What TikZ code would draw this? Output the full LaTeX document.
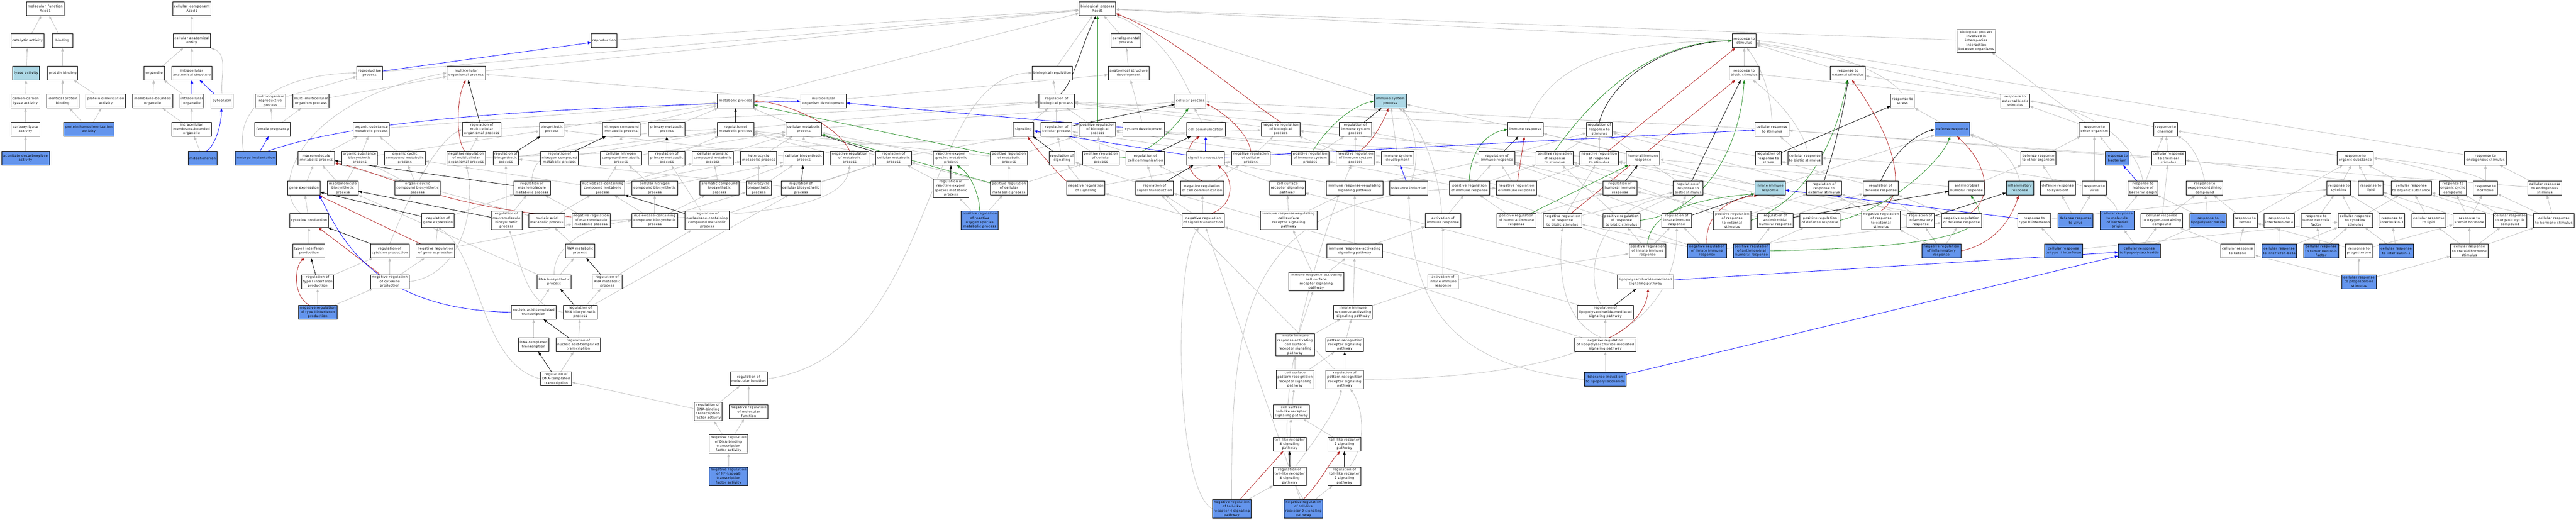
\documentclass[tikz,border=0pt]{standalone}
\usepackage{fontspec}
\usetikzlibrary{arrows.meta}
\newfontfamily\gofont{DejaVu Sans}[LetterSpace=8]
\definecolor{lblue}{HTML}{ADD8E6}
\definecolor{cblue}{HTML}{6495ED}
\definecolor{egrey}{HTML}{C0C0C0}
\definecolor{fired}{HTML}{B22222}
\definecolor{fgreen}{HTML}{228B22}
\pgfdeclarelayer{bg}
\pgfsetlayers{bg,main}
\tikzset{
  gn/.style={draw=black, line width=0.35pt, fill=white, inner sep=0pt, minimum height=0.415cm, align=center, font={\gofont\fontsize{2.7pt}{3.65pt}\selectfont}},
  lb/.style={fill=lblue}, db/.style={fill=cblue},
  tf/.style={minimum height=0.553cm}, tv/.style={minimum height=0.672cm},
  arr/.style={-{Triangle[length=0.1cm,width=0.075cm]}},
  eg/.style={arr, draw=egrey, line width=0.35pt},
  ek/.style={arr, draw=black, line width=0.35pt},
  eb/.style={arr, draw=blue, line width=0.35pt},
  ebt/.style={arr, draw=blue, line width=0.7pt},
  ep/.style={arr, draw=fgreen, line width=0.35pt},
  en/.style={arr, draw=fired, line width=0.35pt}
}
\newcommand{\gonode}[6][]{\node[gn,minimum width={#5*0.01cm},#1] (#2) at (#3,#4) {#6};}
\begin{document}
\begin{tikzpicture}[x=0.01cm,y=-0.00988cm]
\useasboundingbox (0,0) rectangle (7680,1568);
% ---------- molecular function
\gonode{mf}{135}{26}{113}{molecular\_function\\Acod1}
\gonode{cat}{82}{123}{99}{catalytic activity}
\gonode{bind}{186}{123}{62}{binding}
\gonode[lb]{lyase}{78}{220}{80}{lyase activity}
\gonode{pbind}{187}{220}{89}{protein binding}
\gonode{cclyase}{76}{305}{85}{carbon-carbon\\lyase activity}
\gonode{idpb}{187}{305}{96}{identical protein\\binding}
\gonode{pdim}{315}{305}{119}{protein dimerization\\activity}
\gonode{carbox}{76}{390}{85}{carboxy-lyase\\activity}
\gonode[db]{phomo}{265}{390}{150}{protein homodimerization\\activity}
\gonode[db]{acod}{76}{477}{143}{aconitate decarboxylase\\activity}
% ---------- cellular component
\gonode{cc}{572}{26}{115}{cellular\_component\\Acod1}
\gonode{cae}{572}{123}{112}{cellular anatomical\\entity}
\gonode{org}{460}{220}{62}{organelle}
\gonode{ias}{572}{220}{121}{intracellular\\anatomical structure}
\gonode{mbo}{455}{305}{120}{membrane-bounded\\organelle}
\gonode{io}{572}{305}{71}{intracellular\\organelle}
\gonode{cyto}{662}{305}{65}{cytoplasm}
\gonode{imbo}{571}{390}{118}{intracellular\\membrane-bounded\\organelle}
\gonode[db]{mito}{604}{477}{86}{mitochondrion}
% ---------- biological process
\gonode{reprop}{1102}{220}{76}{reproductive\\process}
\gonode{morp}{806}{305}{91}{multi-organism\\reproductive\\process}
\gonode{mmop}{927}{305}{108}{multi-multicellular\\organism process}
\gonode{fpreg}{813}{390}{106}{female pregnancy}
\gonode[db]{embimp}{763}{477}{123}{embryo implantation}
\gonode{osmp}{1107}{390}{108}{organic substance\\metabolic process}
\gonode{mmp}{943}{477}{108}{macromolecule\\metabolic process}
\gonode{osbp}{1072}{477}{106}{organic substance\\biosynthetic\\process}
\gonode{occmp}{1207}{477}{122}{organic cyclic\\compound metabolic\\process}
\gonode{gexp}{906}{568}{97}{gene expression}
\gonode{mbp}{1022}{568}{92}{macromolecule\\biosynthetic\\process}
\gonode{occbp}{1245}{568}{136}{organic cyclic\\compound biosynthetic\\process}
\gonode{cytprod}{921}{665}{115}{cytokine production}
\gonode{t1ifn}{921}{757}{95}{type I interferon\\production}
\gonode{rt1ifn}{947}{850}{95}{regulation of\\type I interferon\\production}
\gonode{rcytprod}{1162}{757}{115}{regulation of\\cytokine production}
\gonode{nrcytprod}{1162}{850}{115}{negative regulation\\of cytokine\\production}
\gonode[db]{nrt1ifn}{947}{942}{115}{negative regulation\\of type I interferon\\production}
\gonode{rgexp}{1306}{665}{97}{regulation of\\gene expression}
\gonode{nrgexp}{1298}{757}{115}{negative regulation\\of gene expression}
\gonode{repro}{1801}{123}{76}{reproduction}
\gonode{mop}{1390}{220}{115}{multicellular\\organismal process}
\gonode{rmop}{1436}{390}{115}{regulation of\\multicellular\\organismal process}
\gonode{nrmop}{1390}{477}{115}{negative regulation\\of multicellular\\organismal process}
\gonode{biosyn}{1645}{390}{73}{biosynthetic\\process}
\gonode{ncmp}{1852}{390}{113}{nitrogen compound\\metabolic process}
\gonode{rbiosyn}{1508}{477}{76}{regulation of\\biosynthetic\\process}
\gonode{rncmp}{1668}{477}{113}{regulation of\\nitrogen compound\\metabolic process}
\gonode{cncmp}{1851}{477}{123}{cellular nitrogen\\compound metabolic\\process}
\gonode{rmmp}{1586}{568}{109}{regulation of\\macromolecule\\metabolic process}
\gonode{nccmp}{1797}{568}{131}{nucleobase-containing\\compound metabolic\\process}
\gonode{cncbp}{1952}{568}{137}{cellular nitrogen\\compound biosynthetic\\process}
\gonode[tf]{rmbp}{1510}{665}{92}{regulation of\\macromolecule\\biosynthetic\\process}
\gonode{namp}{1630}{665}{108}{nucleic acid\\metabolic process}
\gonode{nrmmp}{1762}{665}{114}{negative regulation\\of macromolecule\\metabolic process}
\gonode{nccbp}{1952}{665}{137}{nucleobase-containing\\compound biosynthetic\\process}
\gonode{rnamp}{1729}{757}{88}{RNA metabolic\\process}
\gonode{rnabp}{1652}{850}{101}{RNA biosynthetic\\process}
\gonode{rrnamp}{1810}{850}{88}{regulation of\\RNA metabolic\\process}
\gonode{natt}{1591}{942}{134}{nucleic acid-templated\\transcription}
\gonode{rrnabp}{1730}{942}{102}{regulation of\\RNA biosynthetic\\process}
\gonode{dtt}{1591}{1040}{91}{DNA-templated\\transcription}
\gonode{rnatt}{1724}{1040}{133}{regulation of\\nucleic acid-templated\\transcription}
\gonode{rdtt}{1658}{1143}{92}{regulation of\\DNA-templated\\transcription}
\gonode{metp}{2193}{305}{109}{metabolic process}
\gonode{mod}{2455}{305}{136}{multicellular\\organism development}
\gonode{pmp}{1988}{390}{109}{primary metabolic\\process}
\gonode{rmetp}{2193}{390}{109}{regulation of\\metabolic process}
\gonode{cmp}{2396}{390}{106}{cellular metabolic\\process}
\gonode{rpmp}{1988}{477}{109}{regulation of\\primary metabolic\\process}
\gonode{cacmp}{2125}{477}{122}{cellular aromatic\\compound metabolic\\process}
\gonode{hmp}{2262}{477}{107}{heterocycle\\metabolic process}
\gonode{cbp}{2396}{477}{119}{cellular biosynthetic\\process}
\gonode{nrmetp}{2533}{477}{115}{negative regulation\\of metabolic\\process}
\gonode{acbp}{2145}{568}{117}{aromatic compound\\biosynthetic\\process}
\gonode{hbp}{2262}{568}{75}{heterocycle\\biosynthetic\\process}
\gonode{rcbp}{2388}{568}{119}{regulation of\\cellular biosynthetic\\process}
\gonode[tf]{rnccmp}{2108}{665}{131}{regulation of\\nucleobase-containing\\compound metabolic\\process}
\gonode{rmf}{2232}{1143}{111}{regulation of\\molecular function}
\gonode[tf]{rdbtf}{2111}{1242}{84}{regulation of\\DNA-binding\\transcription\\factor activity}
\gonode{nrmf}{2232}{1242}{115}{negative regulation\\of molecular\\function}
\gonode[tf]{nrdbtf}{2172}{1340}{115}{negative regulation\\of DNA-binding\\transcription\\factor activity}
\gonode[tf,db]{nrnfkb}{2172}{1437}{115}{negative regulation\\of NF-kappaB\\transcription\\factor activity}
\gonode{breg}{3137}{220}{120}{biological regulation}
\gonode{rbp}{3150}{305}{106}{regulation of\\biological process}
\gonode{sig}{3051}{390}{62}{signaling}
\gonode{rcp}{3150}{390}{92}{regulation of\\cellular process}
\gonode{rcmp}{2664}{477}{106}{regulation of\\cellular metabolic\\process}
\gonode{rosmp}{2835}{477}{106}{reactive oxygen\\species metabolic\\process}
\gonode{prmetp}{3008}{477}{110}{positive regulation\\of metabolic\\process}
\gonode{rsig}{3166}{477}{77}{regulation of\\signaling}
\gonode[tf]{rrosmp}{2835}{568}{106}{regulation of\\reactive oxygen\\species metabolic\\process}
\gonode{prcmp}{3008}{568}{110}{positive regulation\\of cellular\\metabolic process}
\gonode{nrsig}{3237}{568}{115}{negative regulation\\of signaling}
\gonode[tf,db]{prrosmp}{2921}{665}{111}{positive regulation\\of reactive\\oxygen species\\metabolic process}
\gonode{bp}{3272}{26}{109}{biological\_process\\Acod1}
\gonode{devp}{3357}{123}{90}{developmental\\process}
\gonode{asd}{3365}{220}{122}{anatomical structure\\development}
\gonode{cellp}{3549}{305}{92}{cellular process}
\gonode{prbp}{3272}{390}{109}{positive regulation\\of biological\\process}
\gonode{sysdev}{3410}{390}{124}{system development}
\gonode{ccomm}{3595}{390}{115}{cell communication}
\gonode{nrbp}{3818}{390}{115}{negative regulation\\of biological\\process}
\gonode{prcp}{3282}{477}{110}{positive regulation\\of cellular\\process}
\gonode{rccomm}{3415}{477}{115}{regulation of\\cell communication}
\gonode{st}{3594}{477}{112}{signal transduction}
\gonode{nrcp}{3729}{477}{115}{negative regulation\\of cellular\\process}
\gonode{rst}{3442}{568}{112}{regulation of\\signal transduction}
\gonode{nrccomm}{3584}{568}{129}{negative regulation\\of cell communication}
\gonode{csrsp}{3838}{568}{106}{cell surface\\receptor signaling\\pathway}
\gonode{nrst}{3587}{665}{127}{negative regulation\\of signal transduction}
\gonode[tf]{irrcsrsp}{3842}{665}{168}{immune response-regulating\\cell surface\\receptor signaling\\pathway}
\gonode[tf,db]{nrtlr4}{3672}{1535}{115}{negative regulation\\of toll-like\\receptor 4 signaling\\pathway}
\gonode[lb]{isp}{4145}{305}{97}{immune system\\process}
\gonode{risp}{4041}{390}{96}{regulation of\\immune system\\process}
\gonode{prisp}{3906}{477}{111}{positive regulation\\of immune system\\process}
\gonode{nrisp}{4041}{477}{114}{negative regulation\\of immune system\\process}
\gonode{isd}{4167}{477}{96}{immune system\\development}
\gonode{rir}{4463}{477}{107}{regulation of\\immune response}
\gonode{irrsp}{4039}{568}{168}{immune response-regulating\\signaling pathway}
\gonode{tolind}{4200}{568}{113}{tolerance induction}
\gonode{prir}{4381}{568}{120}{positive regulation\\of immune response}
\gonode{nrir}{4521}{568}{121}{negative regulation\\of immune response}
\gonode{air}{4302}{665}{106}{activation of\\immune response}
\gonode{prhir}{4521}{665}{117}{positive regulation\\of humoral immune\\response}
\gonode{irasp}{4039}{757}{166}{immune response-activating\\signaling pathway}
\gonode[tf]{iracsrsp}{3924}{850}{165}{immune response-activating\\cell surface\\receptor signaling\\pathway}
\gonode{aiir}{4302}{850}{91}{activation of\\innate immune\\response}
\gonode{iiras}{4034}{942}{115}{innate immune\\response-activating\\signaling pathway}
\gonode[tv]{iiracs}{3861}{1040}{116}{innate immune\\response activating\\cell surface\\receptor signaling\\pathway}
\gonode{prrsp}{4009}{1040}{112}{pattern recognition\\receptor signaling\\pathway}
\gonode[tf]{csprr}{3861}{1145}{113}{cell surface\\pattern recognition\\receptor signaling\\pathway}
\gonode[tf]{rprrsp}{4009}{1145}{112}{regulation of\\pattern recognition\\receptor signaling\\pathway}
\gonode{cstlr}{3850}{1242}{107}{cell surface\\toll-like receptor\\signaling pathway}
\gonode{tlr4}{3845}{1340}{98}{toll-like receptor\\4 signaling\\pathway}
\gonode{tlr2}{4008}{1340}{99}{toll-like receptor\\2 signaling\\pathway}
\gonode[tf]{rtlr4}{3845}{1437}{98}{regulation of\\toll-like receptor\\4 signaling\\pathway}
\gonode[tf]{rtlr2}{4008}{1437}{99}{regulation of\\toll-like receptor\\2 signaling\\pathway}
\gonode[tf,db]{nrtlr2}{3886}{1535}{115}{negative regulation\\of toll-like\\receptor 2 signaling\\pathway}
\gonode{ir}{4548}{390}{106}{immune response}
\gonode{rrs}{4768}{390}{77}{regulation of\\response to\\stimulus}
\gonode{prrs}{4635}{477}{111}{positive regulation\\of response\\to stimulus}
\gonode{nrrs}{4768}{477}{115}{negative regulation\\of response\\to stimulus}
\gonode{hir}{4898}{477}{101}{humoral immune\\response}
\gonode{rhir}{4830}{568}{101}{regulation of\\humoral immune\\response}
\gonode{rrbio}{5033}{568}{89}{regulation of\\response to\\biotic stimulus}
\gonode{nrrbio}{4658}{665}{115}{negative regulation\\of response\\to biotic stimulus}
\gonode{prrbio}{4834}{665}{110}{positive regulation\\of response\\to biotic stimulus}
\gonode{riir}{4999}{665}{90}{regulation of\\innate immune\\response}
\gonode{priir}{4912}{757}{110}{positive regulation\\of innate immune\\response}
\gonode[db]{nriir}{5089}{757}{116}{negative regulation\\of innate immune\\response}
\gonode{lpssp}{4906}{850}{168}{lipopolysaccharide-mediated\\signaling pathway}
\gonode{rlpssp}{4786}{942}{168}{regulation of\\lipopolysaccharide-mediated\\signaling pathway}
\gonode{nrlpssp}{4786}{1040}{182}{negative regulation\\of lipopolysaccharide-mediated\\signaling pathway}
\gonode[db]{tollps}{4786}{1145}{125}{tolerance induction\\to lipopolysaccharide}
\gonode{rstim}{5200}{123}{72}{response to\\stimulus}
\gonode{rbio}{5200}{220}{88}{response to\\biotic stimulus}
\gonode{rext}{5509}{220}{104}{response to\\external stimulus}
\gonode{rstress}{5672}{305}{71}{response to\\stress}
\gonode{crs}{5283}{390}{101}{cellular response\\to stimulus}
\gonode{rrstress}{5272}{477}{77}{regulation of\\response to\\stress}
\gonode{crbio}{5381}{477}{102}{cellular response\\to biotic stimulus}
\gonode[lb]{iir}{5277}{568}{91}{innate immune\\response}
\gonode{rrext}{5438}{568}{103}{regulation of\\response to\\external stimulus}
\gonode{rdefr}{5607}{568}{104}{regulation of\\defense response}
\gonode[tf]{prrext}{5164}{665}{112}{positive regulation\\of response\\to external\\stimulus}
\gonode{ramhr}{5293}{665}{106}{regulation of\\antimicrobial\\humoral response}
\gonode{prdefr}{5426}{665}{120}{positive regulation\\of defense response}
\gonode[tf]{nrrext}{5608}{665}{115}{negative regulation\\of response\\to external\\stimulus}
\gonode{rinflr}{5726}{665}{81}{regulation of\\inflammatory\\response}
\gonode[db]{pramhr}{5222}{757}{110}{positive regulation\\of antimicrobial\\humoral response}
\gonode[db]{nrinflr}{5788}{757}{116}{negative regulation\\of inflammatory\\response}
\gonode[tv]{bpint}{5892}{123}{116}{biological process\\involved in\\interspecies\\interaction\\between organisms}
\gonode{rextbio}{6008}{305}{86}{response to\\external biotic\\stimulus}
\gonode[db]{defr}{5820}{390}{105}{defense response}
\gonode{rother}{6244}{390}{90}{response to\\other organism}
\gonode{drother}{6077}{477}{105}{defense response\\to other organism}
\gonode[db]{rbact}{6312}{477}{71}{response to\\bacterium}
\gonode{amhr}{5863}{568}{106}{antimicrobial\\humoral response}
\gonode[lb]{inflr}{6022}{568}{81}{inflammatory\\response}
\gonode{drsym}{6135}{568}{104}{defense response\\to symbiont}
\gonode{rvirus}{6244}{568}{72}{response to\\virus}
\gonode{rmbo}{6389}{568}{90}{response to\\molecule of\\bacterial origin}
\gonode{nrdefr}{5848}{665}{119}{negative regulation\\of defense response}
\gonode{rt2ifn}{6065}{665}{99}{response to\\type II interferon}
\gonode[db]{drvirus}{6188}{665}{104}{defense response\\to virus}
\gonode[tf,db]{crmbo}{6312}{665}{102}{cellular response\\to molecule\\of bacterial\\origin}
\gonode{croxy}{6445}{665}{125}{cellular response\\to oxygen-containing\\compound}
\gonode[db]{crt2ifn}{6152}{757}{113}{cellular response\\to type II interferon}
\gonode[db]{crlps}{6378}{757}{125}{cellular response\\to lipopolysaccharide}
\gonode{rchem}{6456}{390}{71}{response to\\chemical}
\gonode{crchem}{6465}{477}{101}{cellular response\\to chemical\\stimulus}
\gonode{roxy}{6573}{568}{109}{response to\\oxygen-containing\\compound}
\gonode[db]{rlps}{6583}{665}{110}{response to\\lipopolysaccharide}
\gonode{rketone}{6694}{665}{71}{response to\\ketone}
\gonode{rifnb}{6795}{665}{90}{response to\\interferon-beta}
\gonode{rtnf}{6905}{665}{88}{response to\\tumor necrosis\\factor}
\gonode{crketone}{6671}{757}{102}{cellular response\\to ketone}
\gonode[db]{crifnb}{6795}{757}{104}{cellular response\\to interferon-beta}
\gonode[db]{crtnf}{6920}{757}{104}{cellular response\\to tumor necrosis\\factor}
\gonode{rorg}{7022}{477}{107}{response to\\organic substance}
\gonode{rcyto}{6973}{568}{71}{response to\\cytokine}
\gonode{rlipid}{7068}{568}{73}{response to\\lipid}
\gonode{crcyto}{7022}{665}{103}{cellular response\\to cytokine\\stimulus}
\gonode{rprog}{7033}{757}{80}{response to\\progesterone}
\gonode[db]{crprog}{7033}{850}{103}{cellular response\\to progesterone\\stimulus}
\gonode{rendo}{7410}{477}{125}{response to\\endogenous stimulus}
\gonode{crorg}{7189}{568}{121}{cellular response\\to organic substance}
\gonode{rocc}{7313}{568}{81}{response to\\organic cyclic\\compound}
\gonode{rhorm}{7410}{568}{72}{response to\\hormone}
\gonode{crendo}{7587}{568}{101}{cellular response\\to endogenous\\stimulus}
\gonode{ril1}{7131}{665}{77}{response to\\interleukin-1}
\gonode{crlipid}{7241}{665}{101}{cellular response\\to lipid}
\gonode{rsteroid}{7362}{665}{97}{response to\\steroid hormone}
\gonode{crocc}{7483}{665}{101}{cellular response\\to organic cyclic\\compound}
\gonode{crhorm}{7614}{665}{122}{cellular response\\to hormone stimulus}
\gonode[db]{cril1}{7144}{757}{102}{cellular response\\to interleukin-1}
\gonode{crsteroid}{7362}{757}{112}{cellular response\\to steroid hormone\\stimulus}

\begin{pgfonlayer}{bg}
% grey is_a edges
\foreach \a/\b in {cat/mf, bind/mf, lyase/cat, pbind/bind, cclyase/lyase, idpb/pbind, pdim/pbind, carbox/cclyase, phomo/idpb, phomo/pdim, acod/carbox,
 cae/cc, org/cae, ias/cae, mbo/org, io/org, imbo/mbo, imbo/io, mito/imbo,
 reprop/bp, repro/bp, mop/bp, devp/bp, breg/bp, metp/bp, isp/bp, rstim/bp, bpint/bp,
 morp/reprop, mmop/mop, fpreg/morp, fpreg/mmop, mod/mop, mod/asd, asd/devp, sysdev/asd,
 osmp/metp, mmp/osmp, osbp/osmp, osbp/biosyn, occmp/osmp, gexp/mmp, mbp/mmp, mbp/osbp, occbp/occmp, occbp/osbp, biosyn/metp, ncmp/metp, pmp/metp, cmp/metp, cmp/cellp, cncmp/ncmp, cncmp/cmp, nccmp/cncmp, nccmp/occmp, nccmp/cacmp, nccmp/hmp, cncbp/cncmp, cncbp/cbp, nccbp/cncbp, nccbp/nccmp, nccbp/acbp, nccbp/hbp, cacmp/cmp, hmp/cmp, cbp/cmp, cbp/biosyn, acbp/cacmp, acbp/cbp, hbp/hmp, hbp/cbp, namp/nccmp, namp/mmp, rnamp/namp, rnabp/rnamp, rnabp/mbp, natt/rnabp, dtt/natt, rosmp/cmp,
 rmop/rbp, nrmop/rmop, nrmop/nrbp, rbiosyn/rmetp, rncmp/rmetp, rmbp/rmmp, rmbp/rbiosyn, nrmmp/rmmp, rgexp/rmmp, nrgexp/rgexp, nrgexp/nrmmp, rrnamp/rnccmp, rrnabp/rrnamp, rrnabp/rcbp, rnatt/rrnabp, rdtt/rnatt, rdbtf/rdtt, rpmp/rmetp, rmetp/rbp, rcbp/rcmp, rcbp/rbiosyn, rnccmp/rpmp, rnccmp/rcmp, nrmetp/rmetp, rcmp/rmetp, rcmp/rcp, rrosmp/rcmp, prrosmp/rrosmp, prrosmp/prcmp, prmetp/rmetp, prmetp/prbp, prcmp/prmetp, prcmp/rcmp, prcmp/prcp,
 rt1ifn/rcytprod, nrt1ifn/rt1ifn, nrt1ifn/nrcytprod, nrcytprod/rcytprod, nrcytprod/nrgexp, t1ifn/cytprod, cytprod/gexp,
 rbp/breg, rcp/rbp, sig/rbp, rsig/rcp, nrsig/rsig, nrsig/nrcp, prbp/rbp, nrbp/rbp, prcp/prbp, prcp/rcp, nrcp/nrbp, nrcp/rcp, ccomm/cellp, rccomm/rcp, rst/rccomm, rst/rsig, nrccomm/rccomm, nrccomm/nrcp, nrst/rst, nrst/nrccomm, nrst/nrsig, csrsp/st, irrcsrsp/csrsp, irrcsrsp/irrsp,
 risp/rbp, prisp/risp, prisp/prbp, nrisp/risp, nrisp/nrbp, isd/isp, isd/sysdev, ir/isp, rir/risp, rir/rrs, prir/rir, prir/prisp, prir/prrs, nrir/rir, nrir/nrisp, nrir/nrrs, irrsp/st, irrsp/rir, irasp/irrsp, irasp/air, iracsrsp/irrcsrsp, iracsrsp/irasp, iiras/irasp, iiras/aiir, aiir/air, aiir/priir, iiracs/iracsrsp, iiracs/iiras, prrsp/iiras, csprr/iiracs, csprr/prrsp, rprrsp/rst, cstlr/csprr, tlr4/cstlr, tlr2/cstlr, nrtlr4/rtlr4, nrtlr2/rtlr2, nrtlr2/nrst, air/prir, prhir/rhir, prhir/prir,
 hir/ir, rhir/rir, rrs/rbp, prrs/rrs, prrs/prbp, nrrs/rrs, nrrs/nrbp, rrbio/rrs, nrrbio/rrbio, nrrbio/nrrs, prrbio/rrbio, prrbio/prrs, riir/rrbio, riir/rir, priir/riir, priir/prir, priir/prrbio, nriir/riir, nriir/nrir, nriir/nrrbio, nriir/nrdefr, rlpssp/rst, nrlpssp/rlpssp, nrlpssp/nrst, tollps/nrlpssp, lpssp/csrsp,
 rbio/rstim, rext/rstim, crs/cellp, rrstress/rrs, crbio/crs, iir/ir, iir/defr, rrext/rrs, rdefr/rrstress, prrext/rrext, prrext/prrs, ramhr/rhir, ramhr/rdefr, prdefr/rdefr, prdefr/prrs, nrrext/rrext, nrrext/nrrs, rinflr/rdefr, rinflr/rrext, pramhr/ramhr, pramhr/prdefr, nrinflr/rinflr, nrinflr/nrdefr, nrinflr/nrrext, nrdefr/rdefr, nrdefr/nrrs,
 defr/rstress, rextbio/rbio, rextbio/rext, rother/rextbio, rother/bpint, drother/defr, drother/rother, rbact/rother, amhr/hir, amhr/drother, drsym/drother, rvirus/rother, drvirus/drsym, drvirus/rvirus, rmbo/rchem, crmbo/rmbo, crt2ifn/rt2ifn, crt2ifn/crcyto, crlps/crmbo, crlps/rlps, crlps/croxy, rt2ifn/rcyto,
 rchem/rstim, crchem/rchem, crchem/crs, croxy/roxy, croxy/crchem, rlps/roxy, rlps/rmbo, rketone/roxy, rketone/rorg, crketone/rketone, crketone/croxy, rifnb/rcyto, crifnb/rifnb, crifnb/crcyto, rtnf/rcyto, crtnf/rtnf, crtnf/crcyto, rcyto/rorg, rorg/rchem, crcyto/rcyto, crcyto/crorg, rprog/rsteroid, rprog/rketone, crprog/rprog, crprog/crketone, crprog/crsteroid, rlipid/rorg,
 rendo/rstim, crorg/rorg, crorg/crchem, rhorm/rendo, crendo/rendo, crendo/crs, ril1/rcyto, cril1/ril1, cril1/crcyto, crlipid/rlipid, crlipid/crorg, rsteroid/rocc, rsteroid/rhorm, rsteroid/rlipid, crocc/rocc, crocc/crorg, crhorm/rhorm, crhorm/crendo, crhorm/crorg, crsteroid/rsteroid, crsteroid/crlipid, crsteroid/crocc, crsteroid/crhorm,
 nrmf/rmf, rdbtf/rmf, nrdbtf/rdbtf, nrdbtf/nrmf, nrnfkb/nrdbtf}
 \draw[eg] (\a) -- (\b);
% grey curved
\draw[eg] (rmf.east) .. controls (2800,1070) and (2740,230) .. (breg.west);
\draw[eg] (cyto.north) to[out=95,in=-20] (cae.south east);
\draw[eg] (embimp.150) .. controls (700,330) and (820,225) .. (reprop.west);
\draw[eg] (cytprod.140) .. controls (800,560) and (900,300) .. (mop.west);
\draw[eg] (rcytprod.north) .. controls (1200,640) and (1290,430) .. (rmop.west);
\draw[eg] (nrcytprod.east) .. controls (1380,830) and (1420,620) .. (nrmop.south);
\draw[eg] (rdtt.west) .. controls (1431,1100) and (1431,760) .. (rgexp.south);
\draw[eg] (rrnabp.west) to[out=170,in=-70] (rmbp.-75);
\draw[eg] (rmmp.north) .. controls (1585,450) and (1700,410) .. (rmetp.west);
\draw[eg] (nrmmp.east) .. controls (2300,650) and (2520,620) .. (nrmetp.south);
\draw[eg] (rnabp.north) .. controls (1650,770) and (1700,690) .. (nccbp.west);
\draw[eg] (cellp.north) to[out=115,in=-25] (bp.-20);
\draw[eg] (tolind.70) .. controls (4240,460) and (4210,380) .. (isp.-30);
\draw[eg] (air.100) .. controls (4290,520) and (4240,380) .. (isp.-40);
\draw[eg] (ir.70) .. controls (4620,200) and (4800,125) .. (rstim.west);
\draw[eg] (crs.north) .. controls (5280,280) and (5250,200) .. (rstim.-70);
\draw[eg] (rstress.north) .. controls (5640,230) and (5450,140) .. (rstim.east);
\draw[eg] (crbio.70) .. controls (5370,380) and (5300,300) .. (rbio.-40);
\draw[eg] (inflr.north) .. controls (6000,470) and (5950,430) .. (defr.-15);
\draw[eg] (crmbo.north) .. controls (6290,540) and (6000,510) .. (crbio.east);
\draw[eg] (rmbo.north) .. controls (6370,440) and (6250,330) .. (rextbio.east);
\draw[eg] (roxy.north) .. controls (6560,480) and (6530,430) .. (rchem.-30);
\draw[eg] (rhorm.north) .. controls (7380,520) and (7200,485) .. (rorg.east);
\draw[eg] (rocc.north) .. controls (7300,520) and (7150,490) .. (rorg.east);
\draw[eg] (rtlr4.60) .. controls (3920,1330) and (3990,1230) .. (rprrsp.-110);
\draw[eg] (rtlr2.60) .. controls (4080,1330) and (4060,1220) .. (rprrsp.-60);
\draw[eg] (nrtlr4.west) .. controls (3500,1470) and (3500,780) .. (nrst.-120);
\draw[eg] (nrtlr4.north) .. controls (3670,900) and (3720,560) .. (nrir.west);
\draw[eg] (nrtlr2.north) .. controls (3740,1300) and (3960,650) .. (nrisp.-120);
\draw[eg] (rprrsp.east) .. controls (4700,1140) and (5000,1000) .. (riir.south);
\draw[eg] (tollps.west) .. controls (4300,1100) and (4210,900) .. (tolind.south);
\draw[eg] (rlpssp.120) .. controls (4720,820) and (4760,620) .. (rrbio.-150);
\draw[eg] (nrlpssp.120) .. controls (4640,960) and (4650,780) .. (nrrbio.south);
% regulates
\foreach \a/\b in {rmop/mop, rbiosyn/biosyn, rncmp/ncmp, rmmp/mmp, rmbp/mbp, rgexp/gexp, rt1ifn/t1ifn, rcytprod/cytprod, rrnamp/rnamp, rrnabp/rnabp, rnatt/natt, rdtt/dtt, rpmp/pmp, rmetp/metp, rcbp/cbp, rnccmp/nccmp, rcmp/cmp, rrosmp/rosmp, rcp/cellp, rsig/sig, rccomm/ccomm, rst/st, risp/isp, rir/ir, rhir/hir, rrbio/rbio, riir/iir, rrstress/rstress, ramhr/amhr, rinflr/inflr, rlpssp/lpssp, rprrsp/prrsp, rtlr4/tlr4, rtlr2/tlr2}
 \draw[ek] (\a) -- (\b);
\draw[ek] (rbp.60) .. controls (3200,250) and (3230,120) .. (bp.-100);
\draw[ek] (rrs.north) .. controls (4800,250) and (4950,130) .. (rstim.west);
\draw[ek] (rrext.north) .. controls (5470,450) and (5500,320) .. (rext.south);
\draw[ek] (rdefr.north) .. controls (5640,470) and (5700,410) .. (defr.west);
% positively regulates
\foreach \a/\b in {prmetp/metp, prcmp/cmp, prhir/hir}
 \draw[ep] (\a) -- (\b);
\draw[ep, line width=0.7pt] (prbp) -- (bp);
\draw[ep] (prcp.east) .. controls (3420,470) and (3500,390) .. (cellp.-105);
\draw[ep] (prrosmp.north) .. controls (2921,600) and (2900,530) .. (rosmp.-50);
\draw[ep] (prisp.70) .. controls (3960,380) and (4030,320) .. (isp.west);
\draw[ep] (prir.north) .. controls (4381,470) and (4420,405) .. (ir.west);
\draw[ep] (prrs.north) .. controls (4780,250) and (4950,125) .. (rstim.west);
\draw[ep] (prrbio.east) .. controls (5100,640) and (5190,420) .. (rbio.south);
\draw[ep] (priir.north) .. controls (4920,640) and (5050,600) .. (iir.-160);
\draw[ep] (prrext.east) .. controls (5400,600) and (5480,400) .. (rext.-95);
\draw[ep] (prdefr.east) .. controls (5650,620) and (5790,480) .. (defr.-105);
\draw[ep] (pramhr.east) .. controls (5850,745) and (5950,690) .. (amhr.-60);
% negatively regulates
\foreach \a/\b in {nrgexp/gexp, nrcytprod/cytprod, nrrs/rstim, nrrbio/rbio, nrtlr4/tlr4, nrir/ir}
 \draw[en] (\a) -- (\b);
\draw[en] (nrt1ifn.140) .. controls (870,890) and (880,800) .. (t1ifn.-120);
\draw[en] (nrmop.100) .. controls (1360,430) and (1360,300) .. (mop.-95);
\draw[en] (nrmmp.170) .. controls (1300,625) and (1150,520) .. (mmp.-15);
\draw[en] (nrmetp.north) .. controls (2500,380) and (2350,310) .. (metp.east);
\draw[en] (nrbp.north) .. controls (3700,290) and (3500,110) .. (bp.-15);
\draw[en] (nrcp.north) .. controls (3720,400) and (3650,340) .. (cellp.-10);
\draw[en] (nrsig.north west) .. controls (3160,530) and (3090,450) .. (sig.-60);
\draw[en] (nrccomm.north) .. controls (3530,520) and (3530,440) .. (ccomm.-130);
\draw[en] (nrst.40) .. controls (3680,620) and (3680,540) .. (st.-30);
\draw[en] (nrisp.60) .. controls (4080,440) and (4120,380) .. (isp.-105);
\draw[en] (nriir.north) .. controls (5082,650) and (5150,600) .. (iir.-150);
\draw[en] (nrlpssp.60) .. controls (4880,980) and (4910,920) .. (lpssp.-70);
\draw[en] (nrtlr2.north) .. controls (3940,1450) and (3960,1400) .. (tlr2.-120);
\draw[en] (nrrext.north) .. controls (5690,580) and (5650,420) .. (rext.-60);
\draw[en] (nrinflr.east) .. controls (5930,740) and (5990,680) .. (inflr.-100);
\draw[en] (nrdefr.40) .. controls (5940,600) and (5930,500) .. (defr.-55);
% part_of
\foreach \a/\b in {reprop/repro, embimp/fpreg, sysdev/mod, st/sig, st/crs, tolind/isd, rmbo/rbact, lpssp/crlps, tollps/crlps, rt2ifn/iir, cyto/ias}
 \draw[eb] (\a) -- (\b);
\draw[ebt] (io) -- (ias);
\draw[ebt] (st) -- (ccomm);
\draw[eb] (mito.60) .. controls (640,440) and (660,380) .. (cyto.-95);
\draw[eb] (natt.west) .. controls (1100,935) and (1010,700) .. (gexp.-25);
\draw[eb] (embimp.30) .. controls (1100,350) and (1700,325) .. (mod.west);
\end{pgfonlayer}
\end{tikzpicture}
\end{document}
